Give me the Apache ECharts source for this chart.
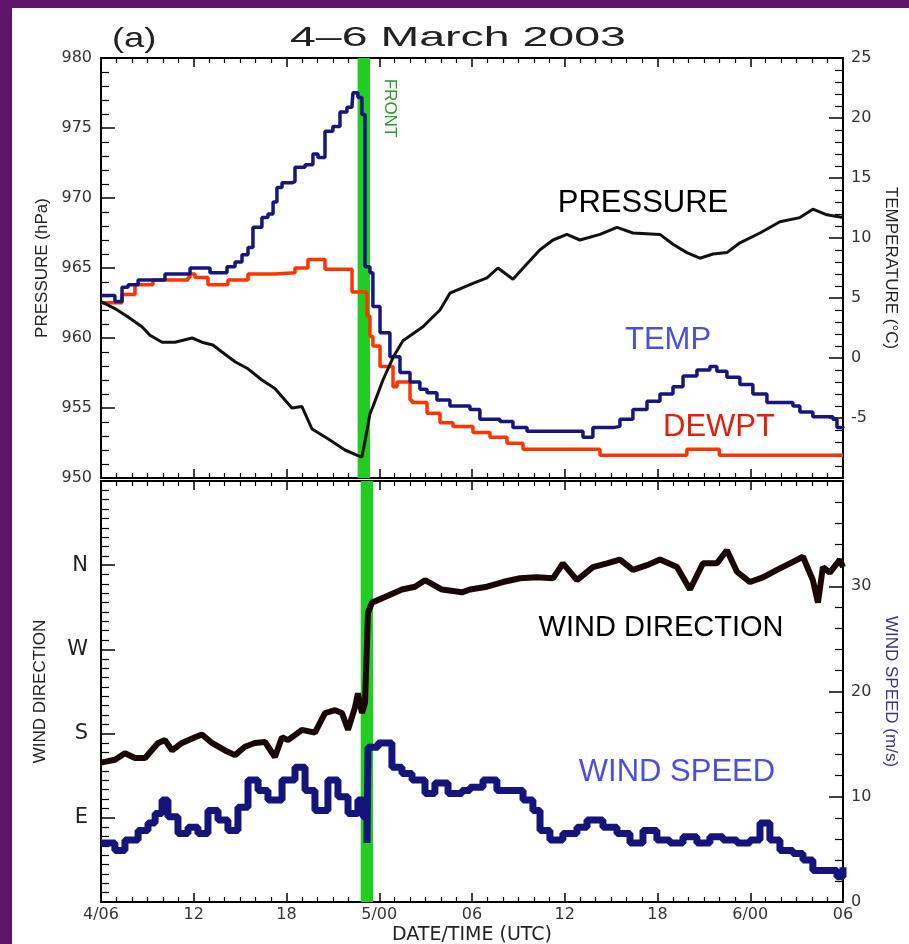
<!DOCTYPE html>
<html>
<head>
<meta charset="utf-8">
<script src="https://cdn.jsdelivr.net/npm/echarts/dist/echarts.min.js"></script>
<style>
  html, body { margin: 0; padding: 0; background: #fff; }
  #chart { position: absolute; left: 0; top: 0; width: 909px; height: 944px; background: #fff; }
  .frame { position: absolute; background: #5e1668; }
</style>
</head>
<body>
<div id="chart"></div>
<div class="frame" style="left:0;top:0;width:909px;height:8px"></div>
<div class="frame" style="left:0;top:0;width:12px;height:944px"></div>
<script>
// Time is in hours after 06 UTC on 4 March 2003.
const timeLabels = ['4/06', '12', '18', '5/00', '06', '12', '18', '6/00', '06'];
const frontBand = [16.6, 17.4];
const dirLabels = { 90: 'E', 180: 'S', 270: 'W', 360: 'N' };

// Station pressure (hPa)
const pressure = [
  [0, 962.6], [0.9, 962.1], [1.75, 961.5], [2.65, 960.8], [3.17, 960.2], [3.95, 959.7],
  [4.79, 959.7], [5.89, 960.0], [6.53, 959.7], [7.24, 959.5], [7.83, 959.0], [8.67, 958.3],
  [9.51, 957.8], [10.41, 957.0], [11.25, 956.4], [12.35, 955.0], [13.0, 955.1], [13.65, 953.5],
  [14.68, 952.8], [15.78, 952.0], [16.62, 951.6], [16.88, 951.5], [17.21, 953.4], [17.4, 954.6],
  [17.59, 955.1], [18.24, 957.0], [18.89, 958.6], [19.53, 959.8], [20.83, 960.8], [21.28, 961.3],
  [21.93, 962.0], [22.57, 963.2], [24.06, 963.9], [24.97, 964.3], [25.68, 965.0], [26.65, 964.2],
  [27.56, 965.3], [28.4, 966.3], [29.24, 967.0], [30.14, 967.4], [30.98, 967.0], [32.28, 967.4],
  [33.38, 967.9], [34.41, 967.5], [36.16, 967.4], [37.0, 966.7], [37.9, 966.1], [38.74, 965.7],
  [39.59, 966.0], [40.49, 966.1], [41.33, 966.8], [42.63, 967.5], [43.92, 968.3], [45.21, 968.6],
  [46.05, 969.2], [46.96, 968.8], [48, 968.6]
];

// Air temperature (°C)
const temperature = [
  [0, 5.2], [0.9, 4.7], [1.36, 5.9], [1.75, 6.1], [2.4, 6.5], [4.14, 7.0], [5.76, 7.5],
  [7.05, 7.1], [8.15, 7.6], [8.67, 8.0], [9.12, 8.6], [9.51, 9.2], [9.83, 10.9], [10.41, 11.7],
  [10.8, 12.0], [11.13, 13.0], [11.38, 14.2], [11.71, 14.6], [12.35, 14.7], [12.55, 15.9],
  [13.2, 16.1], [13.71, 17.0], [14.04, 16.7], [14.49, 18.9], [15.0, 19.3], [15.46, 20.5],
  [15.91, 20.9], [16.24, 21.1], [16.3, 22.1], [16.62, 21.7], [16.88, 20.3], [17.08, 7.6],
  [17.4, 7.1], [17.59, 4.3], [18.05, 2.1], [18.69, 0.1], [19.34, -1.2], [19.99, -2.0],
  [20.63, -2.6], [21.09, -2.9], [21.73, -3.5], [22.57, -4.0], [23.87, -4.3], [24.51, -5.1],
  [25.81, -5.3], [26.65, -5.8], [27.56, -6.1], [31.0, -6.1], [31.18, -6.6], [31.82, -5.8],
  [33.12, -5.7], [33.57, -5.1], [34.41, -4.3], [35.32, -3.6], [36.16, -3.0], [37.0, -2.4],
  [37.65, -1.5], [38.55, -1.0], [39.39, -0.7], [39.84, -1.1], [40.49, -1.6], [41.33, -2.2],
  [42.17, -3.0], [43.08, -3.7], [44.76, -4.0], [45.21, -4.5], [46.05, -4.9], [47.35, -5.1],
  [47.61, -5.8], [48, -5.7]
];

// Dew point (°C)
const dewpoint = [
  [0, 4.6], [0.9, 4.6], [1.36, 5.3], [2.2, 6.1], [3.36, 6.5], [5.63, 6.7], [5.76, 7.0],
  [6.08, 6.7], [6.92, 6.1], [8.21, 6.5], [9.51, 7.0], [11.25, 7.1], [12.55, 7.5], [13.39, 8.2],
  [13.84, 8.2], [14.49, 7.4], [16.0, 7.4], [16.24, 5.5], [17.08, 5.4], [17.21, 3.5], [17.4, 1.8],
  [17.59, 1.0], [18.05, -0.7], [18.89, -2.4], [19.15, -2.0], [19.99, -3.5], [20.12, -3.7],
  [21.09, -4.6], [21.93, -5.4], [22.77, -5.7], [24.06, -6.2], [25.16, -6.6], [26.26, -7.1],
  [27.3, -7.6], [30.14, -7.6], [32.28, -8.1], [37.65, -8.1], [37.9, -7.6], [39.59, -7.6],
  [40.0, -8.1], [48, -8.1]
];

// Wind direction (degrees)
const windDir = [
  [0, 149], [0.9, 152], [1.55, 159], [2.2, 154], [2.85, 154], [3.69, 170], [4.14, 173],
  [4.6, 162], [5.24, 170], [6.08, 176], [6.53, 179], [7.18, 170], [8.02, 162], [8.67, 157],
  [9.31, 166], [9.96, 170], [10.61, 171], [11.25, 155], [11.71, 176], [12.1, 173], [13.0, 184],
  [13.84, 181], [14.49, 202], [15.14, 205], [15.59, 202], [15.98, 184], [16.43, 208],
  [16.62, 223], [16.88, 202], [17.08, 213], [17.27, 309], [17.53, 320], [18.37, 326],
  [19.47, 334], [20.31, 337], [20.96, 344], [22.06, 334], [23.35, 331], [23.87, 334],
  [24.97, 337], [26.0, 342], [27.1, 346], [28.2, 347], [29.24, 346], [29.88, 362],
  [30.79, 344], [31.82, 358], [32.73, 362], [33.57, 366], [34.41, 355], [35.32, 360],
  [36.16, 366], [37.26, 358], [38.1, 334], [38.94, 362], [39.84, 362], [40.49, 376],
  [41.14, 353], [41.98, 342], [42.82, 347], [43.73, 355], [44.57, 362], [45.41, 369],
  [46.05, 344], [46.38, 320], [46.7, 358], [47.15, 352], [47.8, 366], [48, 358]
];

// Wind speed (m/s)
const windSpeed = [
  [0, 5.6], [0.9, 4.9], [1.55, 5.9], [2.4, 6.8], [3.04, 7.5], [3.5, 8.4], [3.95, 9.7],
  [4.33, 8.1], [4.98, 6.5], [5.63, 7.1], [6.27, 6.5], [6.92, 8.7], [7.57, 7.8], [8.21, 6.8],
  [8.86, 9.0], [9.51, 11.6], [10.16, 10.6], [10.8, 9.7], [11.71, 11.6], [12.55, 12.8],
  [13.2, 10.6], [13.84, 8.7], [14.68, 11.6], [15.33, 10.0], [15.98, 8.4], [16.62, 9.7],
  [16.95, 8.1], [17.21, 5.6], [17.27, 14.7], [17.92, 15.1], [18.56, 15.1], [18.82, 12.8],
  [19.47, 12.2], [20.12, 11.6], [20.96, 10.3], [21.6, 11.3], [22.45, 10.3], [23.35, 10.6],
  [23.87, 10.9], [24.71, 11.6], [25.61, 10.6], [26.46, 10.6], [27.3, 9.7], [27.94, 8.7],
  [28.4, 6.8], [29.04, 5.9], [29.88, 6.5], [30.79, 7.1], [31.44, 7.8], [32.47, 7.1],
  [33.38, 6.5], [34.22, 5.6], [35.06, 6.8], [35.96, 5.9], [36.8, 5.6], [37.65, 6.2],
  [38.55, 5.6], [39.39, 6.2], [40.23, 5.9], [41.14, 5.6], [41.98, 5.9], [42.63, 7.5],
  [43.27, 5.9], [43.92, 4.9], [44.76, 4.6], [45.41, 4.0], [46.05, 3.0], [46.96, 3.0],
  [47.61, 2.4], [48, 3.3]
];

const tickFont = { fontFamily: 'DejaVu Sans', fontSize: 16, color: '#333' };

function frameLine() {
  return { show: true, onZero: false, lineStyle: { color: '#000', width: 2 } };
}

function timeAxis(gridIndex, position, showLabels) {
  return {
    type: 'value', gridIndex, position, min: 0, max: 48, interval: 6,
    axisLine: frameLine(),
    axisTick: { show: true, inside: true, length: 9, lineStyle: { color: '#000', width: 1.5 } },
    minorTick: { show: true, splitNumber: 6, length: 5, lineStyle: { color: '#000', width: 1.2 } },
    splitLine: { show: false }, minorSplitLine: { show: false },
    axisLabel: showLabels ? Object.assign({
      show: true, margin: 5,
      formatter: v => timeLabels[Math.round(v / 6)]
    }, tickFont) : { show: false },
    name: showLabels ? 'DATE/TIME (UTC)' : '',
    nameLocation: 'middle', nameGap: 24,
    nameTextStyle: { fontFamily: 'DejaVu Sans', fontSize: 19, color: '#222' }
  };
}

function valueAxis(gridIndex, position, min, max, interval, minorSplit, opts) {
  const right = position === 'right';
  return Object.assign({
    type: 'value', gridIndex, position, min, max, interval,
    axisLine: frameLine(),
    axisTick: { show: true, inside: true, length: 14, lineStyle: { color: '#000', width: 1.5 } },
    minorTick: { show: true, splitNumber: minorSplit, length: 8, lineStyle: { color: '#000', width: 1.2 } },
    splitLine: { show: false }, minorSplitLine: { show: false },
    nameLocation: 'middle',
    nameRotate: right ? -90 : 90
  }, opts);
}

const chart = echarts.init(document.getElementById('chart'), null, { renderer: 'canvas' });

const lineBase = { type: 'line', showSymbol: false, symbol: 'none', animation: false, silent: true };

chart.setOption({
  animation: false,
  backgroundColor: '#fff',
  grid: [
    { left: 101, top: 58, right: 66, height: 420, show: false, outerBoundsMode: 'none' },
    { left: 101, top: 481, right: 66, height: 421, show: false, outerBoundsMode: 'none' }
  ],
  xAxis: [
    timeAxis(0, 'bottom', false),
    timeAxis(0, 'top', false),
    timeAxis(1, 'bottom', true),
    timeAxis(1, 'top', false)
  ],
  yAxis: [
    valueAxis(0, 'left', 950, 980, 5, 5, {
      name: 'PRESSURE (hPa)', nameGap: 50,
      nameTextStyle: { fontFamily: 'Liberation Sans', fontSize: 17, color: '#222' },
      axisLabel: Object.assign({ margin: 9 }, tickFont)
    }),
    valueAxis(0, 'right', -10, 25, 5, 5, {
      name: 'TEMPERATURE (\u00B0C)', nameGap: 36,
      nameTextStyle: { fontFamily: 'Liberation Sans', fontSize: 17, color: '#222' },
      axisLabel: Object.assign({ margin: 8, formatter: v => (v === -10 ? '' : String(v)) }, tickFont)
    }),
    valueAxis(1, 'left', 0, 450, 90, 9, {
      name: 'WIND DIRECTION', nameGap: 52,
      nameTextStyle: { fontFamily: 'Liberation Sans', fontSize: 17, color: '#222' },
      axisLabel: { margin: 13, fontFamily: 'DejaVu Sans', fontSize: 21, color: '#222',
        formatter: v => dirLabels[v] || '' }
    }),
    valueAxis(1, 'right', 0, 40, 10, 5, {
      name: 'WIND SPEED (m/s)', nameGap: 36,
      nameTextStyle: { fontFamily: 'Liberation Sans', fontSize: 17, color: '#3b2e8c' },
      axisLabel: Object.assign({ margin: 8, formatter: v => (v === 40 ? '' : String(v)) }, tickFont)
    })
  ],
  graphic: [
    { type: 'text', x: 112, y: 25, scaleX: 1.3, z: 10,
      style: { text: '(a)', font: '28px "Liberation Sans"', fill: '#222', textAlign: 'left', textVerticalAlign: 'top' } },
    { type: 'text', x: 290, y: 24, scaleX: 1.66, z: 10,
      style: { text: '4\u20136 March 2003', font: '28px "Liberation Sans"', fill: '#222', textAlign: 'left', textVerticalAlign: 'top' } },
    { type: 'text', x: 390, y: 108, rotation: -Math.PI / 2, z: 10,
      style: { text: 'FRONT', font: '17px "Liberation Sans"', fill: '#2a9a2a', textAlign: 'center', textVerticalAlign: 'middle' } },
    { type: 'text', x: 643, y: 203, z: 10,
      style: { text: 'PRESSURE', font: '31px "Liberation Sans"', fill: '#000', textAlign: 'center', textVerticalAlign: 'middle' } },
    { type: 'text', x: 668, y: 340, z: 10,
      style: { text: 'TEMP', font: '31px "Liberation Sans"', fill: '#4a50d8', textAlign: 'center', textVerticalAlign: 'middle' } },
    { type: 'text', x: 719, y: 427, z: 10,
      style: { text: 'DEWPT', font: '31px "Liberation Sans"', fill: '#e0200c', textAlign: 'center', textVerticalAlign: 'middle' } },
    { type: 'text', x: 661, y: 628, z: 10,
      style: { text: 'WIND DIRECTION', font: '29px "Liberation Sans"', fill: '#000', textAlign: 'center', textVerticalAlign: 'middle' } },
    { type: 'text', x: 677, y: 772, z: 10,
      style: { text: 'WIND SPEED', font: '31px "Liberation Sans"', fill: '#4a50d8', textAlign: 'center', textVerticalAlign: 'middle' } }
  ],
  series: [
    // frontal passage band, drawn beneath the traces in both panels
    Object.assign({}, lineBase, {
      name: 'front-top', xAxisIndex: 0, yAxisIndex: 0, z: 1,
      data: [[frontBand[0], 965]], lineStyle: { width: 0 },
      markArea: { silent: true, itemStyle: { color: '#22cc22', opacity: 1 },
        data: [[{ xAxis: frontBand[0] }, { xAxis: frontBand[1] }]] }
    }),
    Object.assign({}, lineBase, {
      name: 'front-bottom', xAxisIndex: 2, yAxisIndex: 2, z: 1,
      data: [[frontBand[0], 200]], lineStyle: { width: 0 },
      markArea: { silent: true, itemStyle: { color: '#22cc22', opacity: 1 },
        data: [[{ xAxis: frontBand[0] + 0.2 }, { xAxis: frontBand[1] + 0.2 }]] }
    }),
    Object.assign({}, lineBase, {
      name: 'DEWPT', xAxisIndex: 0, yAxisIndex: 1, z: 3, step: 'end',
      data: dewpoint, lineStyle: { color: '#ff3300', width: 3.5 }
    }),
    Object.assign({}, lineBase, {
      name: 'TEMP', xAxisIndex: 0, yAxisIndex: 1, z: 4, step: 'end',
      data: temperature, lineStyle: { color: '#16167e', width: 3.5 }
    }),
    Object.assign({}, lineBase, {
      name: 'PRESSURE', xAxisIndex: 0, yAxisIndex: 0, z: 5,
      data: pressure, lineStyle: { color: '#111', width: 3 }
    }),
    Object.assign({}, lineBase, {
      name: 'WIND DIRECTION', xAxisIndex: 2, yAxisIndex: 2, z: 4,
      data: windDir, lineStyle: { color: '#1a0606', width: 6 }
    }),
    Object.assign({}, lineBase, {
      name: 'WIND SPEED', xAxisIndex: 2, yAxisIndex: 3, z: 4, step: 'end',
      data: windSpeed, lineStyle: { color: '#14147a', width: 7 }
    })
  ]
});
</script>
</body>
</html>
